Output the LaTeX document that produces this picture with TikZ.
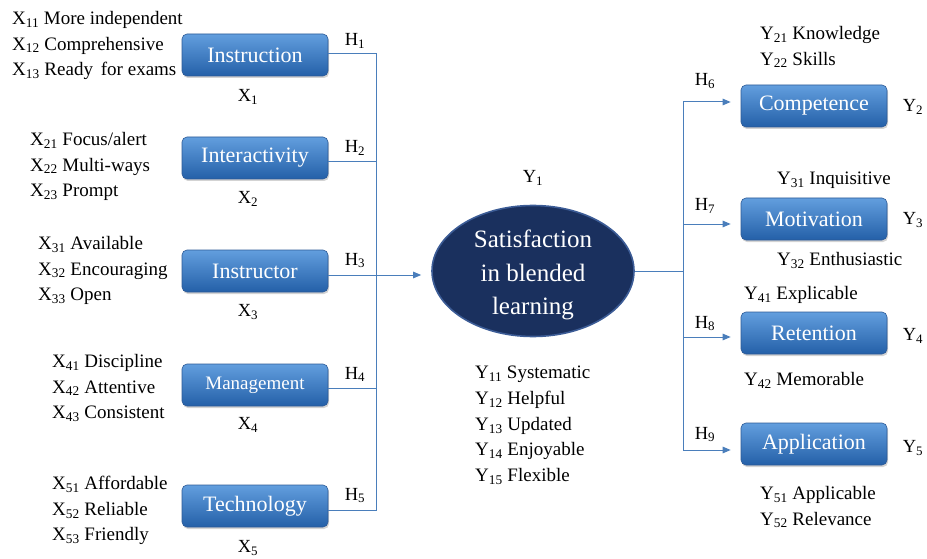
\documentclass[tikz,border=0pt]{standalone}
\usepackage{fontspec}
\setmainfont{Liberation Serif}
\usetikzlibrary{arrows.meta,shadows,shapes.geometric,calc}
\definecolor{linec}{RGB}{74,126,187}
\definecolor{boxtop}{RGB}{98,158,222}
\definecolor{boxbot}{RGB}{36,96,168}
\definecolor{boxedge}{RGB}{45,90,150}
\definecolor{navy}{RGB}{26,48,94}
\definecolor{navyedge}{RGB}{60,92,150}
\tikzset{
 blbox/.style={rounded corners=5pt, top color=boxtop, bottom color=boxbot, draw=boxedge, line width=0.6pt,
   minimum width=146pt, minimum height=42pt, text=white, font=\fontsize{22}{24}\selectfont,
   drop shadow={shadow xshift=1pt, shadow yshift=-2pt, opacity=0.35}, inner sep=0pt},
 lst/.style={align=left, anchor=north west, inner sep=0pt, font=\fontsize{19}{25.7}\selectfont},
 lbl/.style={inner sep=0pt, font=\fontsize{18.5}{22}\selectfont},
 hlbl/.style={lbl, anchor=base},
 conn/.style={draw=linec, line width=1pt},
 arr/.style={conn, -{Triangle[length=8pt,width=6.5pt]}},
}
\begin{document}
\begin{tikzpicture}[x=1pt,y=-1pt]
\useasboundingbox (0,0) rectangle (927,559);
% left boxes
\node[blbox] (ins) at (255,55) {Instruction};
\node[blbox] (itr) at (255,158) {Interactivity};
\node[blbox] (ist) at (255,271) {Instructor};
\node[blbox, font=\fontsize{19}{21}\selectfont] (man) at (255,385) {Management};
\node[blbox] (tec) at (255,506) {Technology};
% right boxes
\node[blbox] (com) at (814,106) {Competence};
\node[blbox] (mot) at (814,219) {Motivation};
\node[blbox] (ret) at (814,333) {Retention};
\node[blbox] (app) at (814,444) {Application};
% ellipse
\node[ellipse, fill=navy, draw=navyedge, line width=1.6pt, minimum width=202pt, minimum height=131pt,
  inner sep=0pt] (sat) at (533,271) {};
\node[text=white, align=center, font=\fontsize{25}{33.5}\selectfont, inner sep=0pt] (sattxt) at (533,275)
  {Satisfaction\\in blended\\learning};
% lists
\node[lst] (l1) at (12,11) {X\textsubscript{11} More independent\\X\textsubscript{12} Comprehensive\\X\textsubscript{13} Ready\, for exams};
\node[lst] (l2) at (30,132) {X\textsubscript{21} Focus/alert\\X\textsubscript{22} Multi-ways\\X\textsubscript{23} Prompt};
\node[lst] (l3) at (38,236) {X\textsubscript{31} Available\\X\textsubscript{32} Encouraging\\X\textsubscript{33} Open};
\node[lst] (l4) at (52,354) {X\textsubscript{41} Discipline\\X\textsubscript{42} Attentive\\X\textsubscript{43} Consistent};
\node[lst] (l5) at (52,476) {X\textsubscript{51} Affordable\\X\textsubscript{52} Reliable\\X\textsubscript{53} Friendly};
\node[lst] (ly1) at (475,366) {Y\textsubscript{11} Systematic\\Y\textsubscript{12} Helpful\\Y\textsubscript{13} Updated\\Y\textsubscript{14} Enjoyable\\Y\textsubscript{15} Flexible};
\node[lst] (ly2) at (760,26) {Y\textsubscript{21} Knowledge\\Y\textsubscript{22} Skills};
\node[lst] (ly31) at (777,172) {Y\textsubscript{31} Inquisitive};
\node[lst] (ly32) at (777,252) {Y\textsubscript{32} Enthusiastic};
\node[lst] (ly41) at (744,286) {Y\textsubscript{41} Explicable};
\node[lst] (ly42) at (744,372) {Y\textsubscript{42} Memorable};
\node[lst] (ly5) at (760,486) {Y\textsubscript{51} Applicable\\Y\textsubscript{52} Relevance};
% single labels
\node[lbl] (x1) at (248,97) {X\textsubscript{1}};
\node[lbl] (x2) at (248,199) {X\textsubscript{2}};
\node[lbl] (x3) at (248,312) {X\textsubscript{3}};
\node[lbl] (x4) at (248,425) {X\textsubscript{4}};
\node[lbl] (x5) at (248,548) {X\textsubscript{5}};
\node[lbl] (y1) at (533,178) {Y\textsubscript{1}};
\node[lbl] (y2) at (913,107) {Y\textsubscript{2}};
\node[lbl] (y3) at (913,220) {Y\textsubscript{3}};
\node[lbl] (y4) at (913,336) {Y\textsubscript{4}};
\node[lbl] (y5) at (913,448) {Y\textsubscript{5}};
\node[hlbl] (h1) at (355,46) {H\textsubscript{1}};
\node[hlbl] (h2) at (355,153) {H\textsubscript{2}};
\node[hlbl] (h3) at (355,265) {H\textsubscript{3}};
\node[hlbl] (h4) at (355,379) {H\textsubscript{4}};
\node[hlbl] (h5) at (355,500) {H\textsubscript{5}};
\node[hlbl] (h6) at (705,86) {H\textsubscript{6}};
\node[hlbl] (h7) at (705,211) {H\textsubscript{7}};
\node[hlbl] (h8) at (705,328) {H\textsubscript{8}};
\node[hlbl] (h9) at (705,439) {H\textsubscript{9}};
% connectors left
\coordinate (vl) at (376,275);
\coordinate (e1) at ($(ins.east)+(0,-1)$);
\coordinate (e2) at ($(itr.east)+(0,4)$);
\coordinate (e3) at ($(ist.east)+(0,4)$);
\coordinate (e4) at ($(man.east)+(0,3)$);
\coordinate (e5) at ($(tec.east)+(0,4)$);
\draw[conn] (e1) -- (e1 -| vl) -- (e5 -| vl) -- (e5);
\draw[conn] (e2) -- (e2 -| vl);
\draw[conn] (e3) -- (e3 -| vl);
\draw[conn] (e4) -- (e4 -| vl);
\draw[arr] (vl) -- ([xshift=-10pt]sat.west |- vl);
% connectors right
\coordinate (vr) at (683,271);
\draw[conn] (sat.east) -- (vr);
\draw[arr, shorten >=10pt] (vr) |- ([yshift=4pt]com.west);
\draw[arr, shorten >=10pt] (vr) |- ([yshift=-5pt]mot.west);
\draw[arr, shorten >=10pt] (vr) |- ([yshift=-4pt]ret.west);
\draw[arr, shorten >=10pt] (vr) |- ([yshift=-6pt]app.west);
\end{tikzpicture}
\end{document}
